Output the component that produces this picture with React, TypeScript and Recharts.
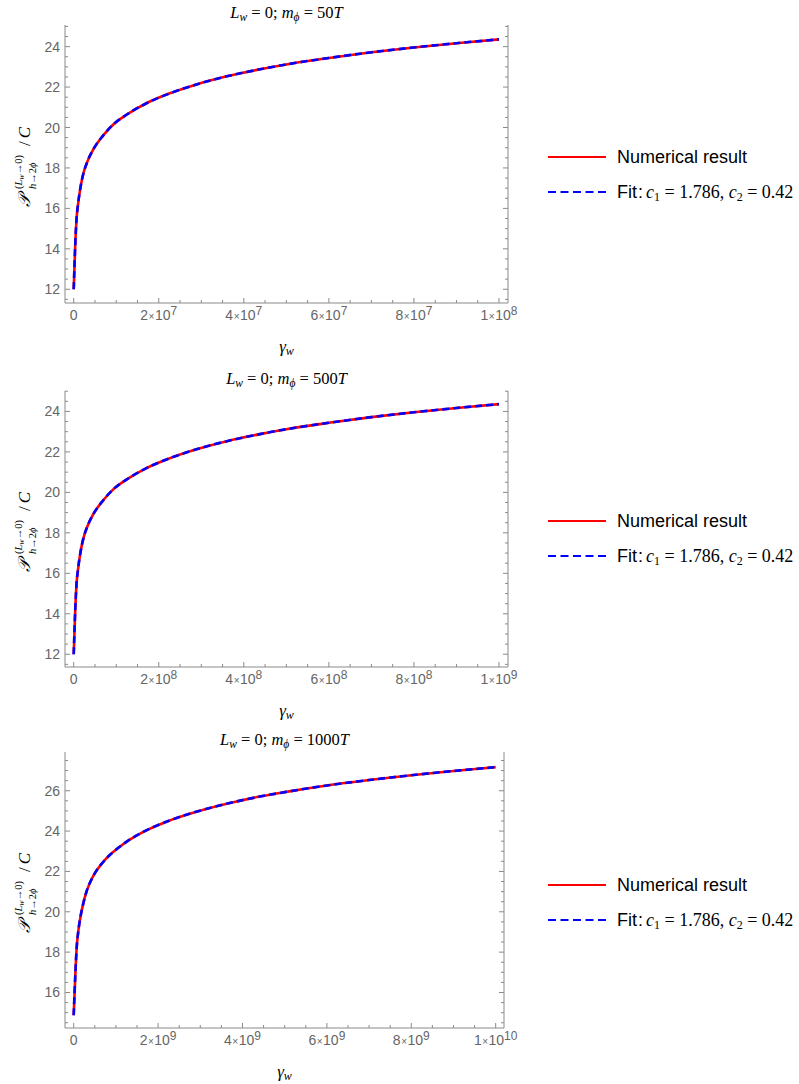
import React from 'react';
import { LineChart, Line, XAxis, YAxis, Legend } from 'recharts';

// ---------- data ----------
// Panel 1: L_w = 0; m_phi = 50T
const gamma50 = [0, 3.6e5, 6.7e5, 9.9e5, 1.6e6, 2.24e6, 3.18e6, 4.6e6, 6.9e6, 9.3e6, 1.24e7, 1.71e7, 2.26e7, 2.81e7, 3.6e7, 4.38e7, 5e7, 6e7, 7e7, 8e7, 9e7, 1e8];
const numerical50 = [12.0, 14.2, 15.5, 16.15, 17.05, 17.7, 18.3, 18.92, 19.6, 20.15, 20.63, 21.2, 21.69, 22.08, 22.53, 22.88, 23.12, 23.44, 23.72, 23.96, 24.17, 24.36];
const fit50 = [12.0, 14.2, 15.5, 16.15, 17.05, 17.7, 18.3, 18.92, 19.6, 20.15, 20.63, 21.2, 21.69, 22.08, 22.53, 22.88, 23.12, 23.44, 23.72, 23.96, 24.17, 24.36];

// Panel 2: L_w = 0; m_phi = 500T
const gamma500 = [0, 3.6e6, 6.7e6, 9.9e6, 1.6e7, 2.24e7, 3.18e7, 4.6e7, 6.9e7, 9.3e7, 1.24e8, 1.71e8, 2.26e8, 2.81e8, 3.6e8, 4.38e8, 5e8, 6e8, 7e8, 8e8, 9e8, 1e9];
const numerical500 = [12.0, 14.2, 15.5, 16.15, 17.05, 17.7, 18.3, 18.92, 19.6, 20.15, 20.63, 21.2, 21.69, 22.08, 22.53, 22.88, 23.12, 23.44, 23.72, 23.96, 24.17, 24.36];
const fit500 = [12.0, 14.2, 15.5, 16.15, 17.05, 17.7, 18.3, 18.92, 19.6, 20.15, 20.63, 21.2, 21.69, 22.08, 22.53, 22.88, 23.12, 23.44, 23.72, 23.96, 24.17, 24.36];

// Panel 3: L_w = 0; m_phi = 1000T
const gamma1000 = [0, 3.9e7, 7.0e7, 1.1e8, 1.65e8, 2.28e8, 3.07e8, 4.65e8, 7.0e8, 1.1e9, 1.65e9, 2.28e9, 2.99e9, 3.86e9, 4.41e9, 5e9, 6e9, 7e9, 8e9, 9e9, 1e10];
const numerical1000 = [14.87, 16.9, 18.2, 19.05, 19.8, 20.42, 21.02, 21.78, 22.47, 23.24, 23.96, 24.53, 25.01, 25.47, 25.71, 25.93, 26.26, 26.53, 26.77, 26.98, 27.17];
const fit1000 = [14.87, 16.9, 18.2, 19.05, 19.8, 20.42, 21.02, 21.78, 22.47, 23.24, 23.96, 24.53, 25.01, 25.47, 25.71, 25.93, 26.26, 26.53, 26.77, 26.98, 27.17];

// tick labels
const xMajors50 = [0, 2e7, 4e7, 6e7, 8e7, 1e8];
const xMajors500 = [0, 2e8, 4e8, 6e8, 8e8, 1e9];
const xMajors1000 = [0, 2e9, 4e9, 6e9, 8e9, 1e10];
const yMajorsA = [12, 14, 16, 18, 20, 22, 24];
const yMajorsB = [16, 18, 20, 22, 24, 26];

const titles = ['50', '500', '1000'];
const legendLabels = ['Numerical result', 'Fit'];

// ---------- styling ----------
const SANS = '"Liberation Sans", Arial, Helvetica, sans-serif';
const SERIF = '"Liberation Serif", "DejaVu Serif", "Times New Roman", serif';
const FRAME = '#8a8a8a';
const TICKTXT = '#666666';
const X_AXIS_H = 30;

const subdivide = (majors: number[], parts: number, lo: number, hi: number) => {
  const step = (majors[1] - majors[0]) / parts;
  const out: number[] = [];
  const start = Math.ceil((lo - majors[0]) / step - 1e-9);
  const end = Math.floor((hi - majors[0]) / step + 1e-9);
  for (let i = start; i <= end; i++) out.push(majors[0] + i * step);
  return out;
};

const isMajor = (v: number, majors: number[]) => {
  const span = Math.abs(majors[majors.length - 1] - majors[0]) || 1;
  return majors.some((m) => Math.abs(m - v) < span * 1e-6);
};

const sciLabel = (v: number) => {
  if (Math.abs(v) < 1e-12) return { mant: '0', exp: '' };
  const e = Math.floor(Math.log10(v) + 1e-9);
  const m = Math.round((v / Math.pow(10, e)) * 100) / 100;
  return { mant: String(m), exp: String(e) };
};

const makeBottomTick = (majors: number[]) => (props: any) => {
  const { x, y, payload } = props;
  const v = payload.value;
  const major = isMajor(v, majors);
  const lab = sciLabel(v);
  return (
    <g>
      <line x1={x} x2={x} y1={y} y2={y - (major ? 5 : 3)} stroke={FRAME} strokeWidth={1} />
      {major && (
        <text x={x} y={y + 17} textAnchor="middle" fontFamily={SANS} fontSize={14} fill={TICKTXT}>
          {lab.exp === '' ? (
            '0'
          ) : (
            <>
              <tspan>{lab.mant}</tspan>
              <tspan fontSize={10} dx={0.5}>×</tspan>
              <tspan dx={0.5}>10</tspan>
              <tspan fontSize={12} dy={-5}>{lab.exp}</tspan>
            </>
          )}
        </text>
      )}
    </g>
  );
};

const makeTopTick = (majors: number[]) => (props: any) => {
  const { x, y, payload } = props;
  const major = isMajor(payload.value, majors);
  return <line x1={x} x2={x} y1={y} y2={y + (major ? 5 : 3)} stroke={FRAME} strokeWidth={1} />;
};

const makeLeftTick = (majors: number[]) => (props: any) => {
  const { x, y, payload } = props;
  const major = isMajor(payload.value, majors);
  return (
    <g>
      <line x1={x} x2={x + (major ? 5 : 3)} y1={y} y2={y} stroke={FRAME} strokeWidth={1} />
      {major && (
        <text x={x - 5} y={y} dy={5} textAnchor="end" fontFamily={SANS} fontSize={14} fill={TICKTXT}>
          {payload.value}
        </text>
      )}
    </g>
  );
};

const makeRightTick = (majors: number[]) => (props: any) => {
  const { x, y, payload } = props;
  const major = isMajor(payload.value, majors);
  return <line x1={x} x2={x - (major ? 5 : 3)} y1={y} y2={y} stroke={FRAME} strokeWidth={1} />;
};

// bottom-axis label: draws the gamma_w axis title and the panel title above the plot
const makeBottomLabel = (mphi: string, plotHeight: number) => (props: any) => {
  const vb = props.viewBox || {};
  const cx = vb.x + vb.width / 2;
  const yG = vb.y + 49;
  const yT = vb.y - plotHeight - 7;
  return (
    <g>
      <text x={cx} y={yG} textAnchor="middle" fontFamily={SERIF} fontSize={17} fill="#000">
        <tspan fontStyle="italic">γ</tspan>
        <tspan fontStyle="italic" fontSize={12} dy={3}>w</tspan>
      </text>
      <text x={cx} y={yT} textAnchor="middle" fontFamily={SERIF} fontSize={16.5} fill="#000">
        <tspan fontStyle="italic">L</tspan>
        <tspan fontStyle="italic" fontSize={11.5} dy={3}>w</tspan>
        <tspan dy={-3}> = 0; </tspan>
        <tspan fontStyle="italic">m</tspan>
        <tspan fontStyle="italic" fontSize={11.5} dy={3}>ϕ</tspan>
        <tspan dy={-3}> = {mphi}</tspan>
        <tspan fontStyle="italic">T</tspan>
      </text>
    </g>
  );
};

const PLabel = (props: any) => {
  const vb = props.viewBox || {};
  const cy = vb.y + vb.height / 2;
  return (
    <g transform={`translate(30, ${cy}) rotate(-90)`} fill="#000">
      <text x={-43} y={0} fontFamily={SERIF} fontSize={17} fontStyle="italic">𝒫</text>
      <text x={-25} y={-8.5} fontFamily={SERIF} fontSize={10.5}>
        (<tspan fontStyle="italic">L</tspan>
        <tspan fontStyle="italic" fontSize={8} dy={2}>w</tspan>
        <tspan dy={-2}>→0)</tspan>
      </text>
      <text x={-25} y={6} fontFamily={SERIF} fontSize={10.5}>
        <tspan fontStyle="italic">h</tspan>→2<tspan fontStyle="italic">ϕ</tspan>
      </text>
      <text x={18} y={0} fontFamily={SERIF} fontSize={17}>
        /<tspan fontStyle="italic" dx={3}>C</tspan>
      </text>
    </g>
  );
};

const LegendContent = () => (
  <svg width={259} height={70} style={{ display: 'block' }}>
    <line x1={8} x2={66} y1={17} y2={17} stroke="#ff0000" strokeWidth={2} />
    <text x={77} y={23} fontFamily={SANS} fontSize={18} fill="#000">{legendLabels[0]}</text>
    <line x1={8} x2={66} y1={52} y2={52} stroke="#0000ff" strokeWidth={2} strokeDasharray="8 4.5" />
    <text x={77} y={58} fontFamily={SANS} fontSize={18} fill="#000">{legendLabels[1]}<tspan dx={1}>:</tspan></text>
    <text x={106} y={58} fontFamily={SERIF} fontSize={18} fill="#000">
      <tspan fontStyle="italic">c</tspan>
      <tspan fontSize={12} dy={3}>1</tspan>
      <tspan dy={-3}> = 1.786, </tspan>
      <tspan fontStyle="italic">c</tspan>
      <tspan fontSize={12} dy={3}>2</tspan>
      <tspan dy={-3}> = 0.42</tspan>
    </text>
  </svg>
);

type PanelProps = {
  top: number;
  height: number;
  margin: { top: number; right: number; bottom: number; left: number };
  gamma: number[];
  numerical: number[];
  fit: number[];
  xDomain: [number, number];
  yDomain: [number, number];
  xMajors: number[];
  yMajors: number[];
  title: string;
  legendTop: number;
};

const Panel = (p: PanelProps) => {
  const rows = p.gamma.map((g, i) => ({ g, num: p.numerical[i], fit: p.fit[i] }));
  const xTicks = subdivide(p.xMajors, 4, p.xDomain[0], p.xDomain[1]);
  const yTicks = subdivide(p.yMajors, 4, p.yDomain[0], p.yDomain[1]);
  const plotHeight = p.height - p.margin.top - p.margin.bottom - X_AXIS_H;
  return (
    <div style={{ position: 'absolute', left: 0, top: p.top }}>
      <LineChart width={799} height={p.height} data={rows} margin={p.margin}>
        <XAxis
          xAxisId="b"
          dataKey="g"
          type="number"
          domain={p.xDomain}
          allowDataOverflow
          ticks={xTicks}
          interval={0}
          tickSize={0}
          tickMargin={0}
          tickLine={false}
          height={X_AXIS_H}
          axisLine={{ stroke: FRAME }}
          tick={makeBottomTick(p.xMajors)}
          label={{ content: makeBottomLabel(p.title, plotHeight) }}
        />
        <XAxis
          xAxisId="t"
          orientation="top"
          dataKey="g"
          type="number"
          domain={p.xDomain}
          allowDataOverflow
          ticks={xTicks}
          interval={0}
          tickSize={0}
          tickMargin={0}
          tickLine={false}
          height={0}
          axisLine={{ stroke: FRAME }}
          tick={makeTopTick(p.xMajors)}
        />
        <YAxis
          yAxisId="l"
          type="number"
          domain={p.yDomain}
          allowDataOverflow
          ticks={yTicks}
          interval={0}
          tickSize={0}
          tickMargin={0}
          tickLine={false}
          width={60}
          axisLine={{ stroke: FRAME }}
          tick={makeLeftTick(p.yMajors)}
          label={{ content: PLabel }}
        />
        <YAxis
          yAxisId="r"
          orientation="right"
          type="number"
          domain={p.yDomain}
          allowDataOverflow
          ticks={yTicks}
          interval={0}
          tickSize={0}
          tickMargin={0}
          tickLine={false}
          width={1}
          axisLine={{ stroke: FRAME }}
          tick={makeRightTick(p.yMajors)}
        />
        <Legend
          layout="horizontal"
          verticalAlign="middle"
          align="center"
          content={LegendContent}
          wrapperStyle={{ left: 540, top: p.legendTop, width: 259, height: 70 }}
        />
        <Line
          xAxisId="b"
          yAxisId="l"
          type="monotone"
          dataKey="num"
          name={legendLabels[0]}
          stroke="#ff0000"
          strokeWidth={2.6}
          dot={false}
          activeDot={false}
          isAnimationActive={false}
        />
        <Line
          xAxisId="t"
          yAxisId="r"
          type="monotone"
          dataKey="fit"
          name={legendLabels[1]}
          stroke="#0000ff"
          strokeWidth={2.6}
          strokeDasharray="7 4"
          dot={false}
          activeDot={false}
          isAnimationActive={false}
        />
      </LineChart>
    </div>
  );
}

export default function App() {
  return (
    <div style={{ position: 'absolute', left: 0, top: 0, width: 799, height: 1084, background: '#fff' }}>
      <Panel
        top={0}
        height={364}
        margin={{ top: 25, right: 290, bottom: 31, left: 5 }}
        gamma={gamma50}
        numerical={numerical50}
        fit={fit50}
        xDomain={[-2.05e6, 1.0212e8]}
        yDomain={[11.32, 25.07]}
        xMajors={xMajors50}
        yMajors={yMajorsA}
        title={titles[0]}
        legendTop={140}
      />
      <Panel
        top={365}
        height={364}
        margin={{ top: 26, right: 290, bottom: 32, left: 5 }}
        gamma={gamma500}
        numerical={numerical500}
        fit={fit500}
        xDomain={[-2.05e7, 1.0212e9]}
        yDomain={[11.37, 25.01]}
        xMajors={xMajors500}
        yMajors={yMajorsA}
        title={titles[1]}
        legendTop={139}
      />
      <Panel
        top={720}
        height={364}
        margin={{ top: 32, right: 294, bottom: 26, left: 5 }}
        gamma={gamma1000}
        numerical={numerical1000}
        fit={fit1000}
        xDomain={[-2.06e8, 1.0197e10]}
        yDomain={[14.24, 27.92]}
        xMajors={xMajors1000}
        yMajors={yMajorsB}
        title={titles[2]}
        legendTop={148}
      />
    </div>
  );
}
